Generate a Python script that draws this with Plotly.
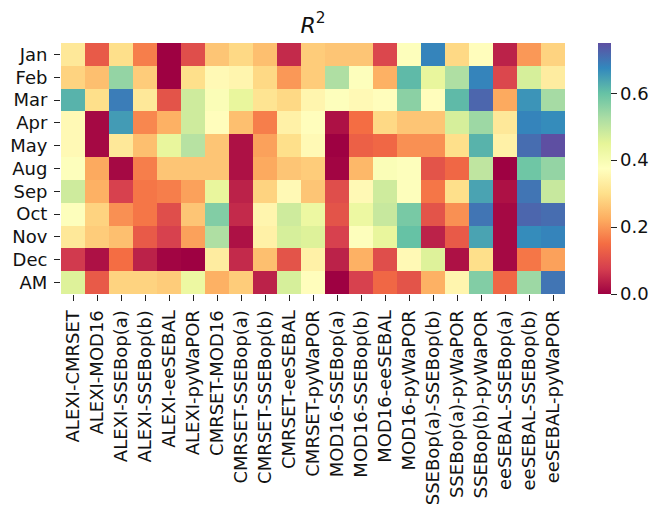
import plotly.graph_objects as go

months = ["Jan", "Feb", "Mar", "Apr", "May", "Aug", "Sep", "Oct", "Nov", "Dec", "AM"]
pairs = ["ALEXI-CMRSET", "ALEXI-MOD16", "ALEXI-SSEBop(a)", "ALEXI-SSEBop(b)", "ALEXI-eeSEBAL",
         "ALEXI-pyWaPOR", "CMRSET-MOD16", "CMRSET-SSEBop(a)", "CMRSET-SSEBop(b)", "CMRSET-eeSEBAL",
         "CMRSET-pyWaPOR", "MOD16-SSEBop(a)", "MOD16-SSEBop(b)", "MOD16-eeSEBAL", "MOD16-pyWaPOR",
         "SSEBop(a)-SSEBop(b)", "SSEBop(a)-pyWaPOR", "SSEBop(b)-pyWaPOR", "eeSEBAL-SSEBop(a)",
         "eeSEBAL-SSEBop(b)", "eeSEBAL-pyWaPOR"]

r2_jan = [0.32, 0.12, 0.30, 0.17, 0.00, 0.10, 0.26, 0.29, 0.25, 0.05, 0.27, 0.26, 0.26, 0.09, 0.38, 0.68, 0.29, 0.37, 0.04, 0.20, 0.28]
r2_feb = [0.28, 0.25, 0.55, 0.27, 0.00, 0.30, 0.36, 0.35, 0.29, 0.20, 0.27, 0.52, 0.38, 0.23, 0.61, 0.44, 0.52, 0.68, 0.09, 0.47, 0.33]
r2_mar = [0.62, 0.30, 0.69, 0.32, 0.11, 0.48, 0.39, 0.44, 0.31, 0.29, 0.35, 0.38, 0.36, 0.37, 0.56, 0.37, 0.61, 0.72, 0.22, 0.66, 0.53]
r2_apr = [0.36, 0.01, 0.65, 0.18, 0.23, 0.48, 0.37, 0.25, 0.17, 0.34, 0.37, 0.02, 0.15, 0.29, 0.26, 0.26, 0.47, 0.54, 0.32, 0.68, 0.67]
r2_may = [0.36, 0.01, 0.32, 0.25, 0.44, 0.51, 0.26, 0.02, 0.21, 0.30, 0.36, 0.00, 0.13, 0.14, 0.19, 0.19, 0.30, 0.62, 0.34, 0.71, 0.75]
r2_aug = [0.38, 0.22, 0.01, 0.17, 0.26, 0.26, 0.26, 0.02, 0.22, 0.26, 0.27, 0.005, 0.24, 0.39, 0.38, 0.11, 0.14, 0.50, 0.00, 0.59, 0.55]
r2_sep = [0.48, 0.23, 0.08, 0.16, 0.17, 0.21, 0.44, 0.04, 0.28, 0.36, 0.26, 0.10, 0.36, 0.48, 0.38, 0.16, 0.30, 0.64, 0.02, 0.70, 0.49]
r2_oct = [0.38, 0.28, 0.19, 0.16, 0.10, 0.26, 0.57, 0.05, 0.35, 0.48, 0.43, 0.11, 0.43, 0.49, 0.58, 0.11, 0.19, 0.70, 0.01, 0.72, 0.71]
r2_nov = [0.32, 0.27, 0.25, 0.12, 0.08, 0.21, 0.52, 0.02, 0.34, 0.47, 0.46, 0.08, 0.38, 0.44, 0.60, 0.04, 0.12, 0.64, 0.01, 0.67, 0.68]
r2_dec = [0.07, 0.02, 0.15, 0.04, 0.005, 0.00, 0.33, 0.05, 0.25, 0.11, 0.34, 0.04, 0.23, 0.10, 0.36, 0.46, 0.02, 0.30, 0.01, 0.16, 0.21]
r2_am = [0.46, 0.12, 0.28, 0.28, 0.27, 0.43, 0.23, 0.27, 0.04, 0.47, 0.37, 0.00, 0.08, 0.14, 0.11, 0.23, 0.35, 0.57, 0.14, 0.54, 0.70]

z = [r2_jan, r2_feb, r2_mar, r2_apr, r2_may, r2_aug, r2_sep, r2_oct, r2_nov, r2_dec, r2_am]

spectral = ["rgb(158,1,66)", "rgb(213,62,79)", "rgb(244,109,67)", "rgb(253,174,97)",
            "rgb(254,224,139)", "rgb(255,255,191)", "rgb(230,245,152)", "rgb(171,221,164)",
            "rgb(102,194,165)", "rgb(50,136,189)", "rgb(94,79,162)"]
cscale = [[i / 10, c] for i, c in enumerate(spectral)]

FONT = "DejaVu Sans"
W, H = 652, 506
L, R, T, B = 61, 87, 43, 212
FS = 18

fig = go.Figure(go.Heatmap(
    z=z, x=pairs, y=months,
    colorscale=cscale, zmin=0, zmax=0.75,
    colorbar=dict(
        x=598 / W, xanchor="left", xref="container", xpad=0,
        y=0.5, yanchor="middle", len=1, lenmode="fraction", ypad=0,
        thickness=13, outlinewidth=0,
        tickvals=[0.0, 0.2, 0.4, 0.6], ticktext=["0.0", "0.2", "0.4", "0.6"],
        ticks="outside", ticklen=6, tickwidth=1, tickcolor="#222",
        tickfont=dict(family=FONT, size=FS, color="#111"),
    ),
))

fig.update_layout(
    width=W, height=H,
    margin=dict(l=L, r=R, t=T, b=B, pad=0, autoexpand=False),
    paper_bgcolor="white", plot_bgcolor="white",
    title=dict(text="<i>R</i><sup>2</sup>", x=313 / W, xanchor="center",
               y=1 - 25 / H, yanchor="middle",
               font=dict(family=FONT, size=22, color="#111")),
    font=dict(family=FONT, color="#111", size=FS),
)
fig.update_xaxes(tickangle=-90, ticks="outside", ticklen=6, tickwidth=1, tickcolor="#222",
                 ticklabelstandoff=2, automargin=False,
                 tickmode="array", tickvals=pairs, ticktext=pairs,
                 tickfont=dict(family=FONT, size=FS, color="#111"), showgrid=False,
                 zeroline=False, showline=False)
fig.update_yaxes(autorange="reversed", ticks="outside", ticklen=6, tickwidth=1, tickcolor="#222",
                 ticklabelstandoff=3, automargin=False,
                 tickmode="array", tickvals=months, ticktext=months,
                 tickfont=dict(family=FONT, size=FS, color="#111"), showgrid=False,
                 zeroline=False, showline=False)

fig.write_html("out.html", config={"displayModeBar": False},
               post_script="document.body.style.margin='0';document.body.style.overflow='hidden';")
